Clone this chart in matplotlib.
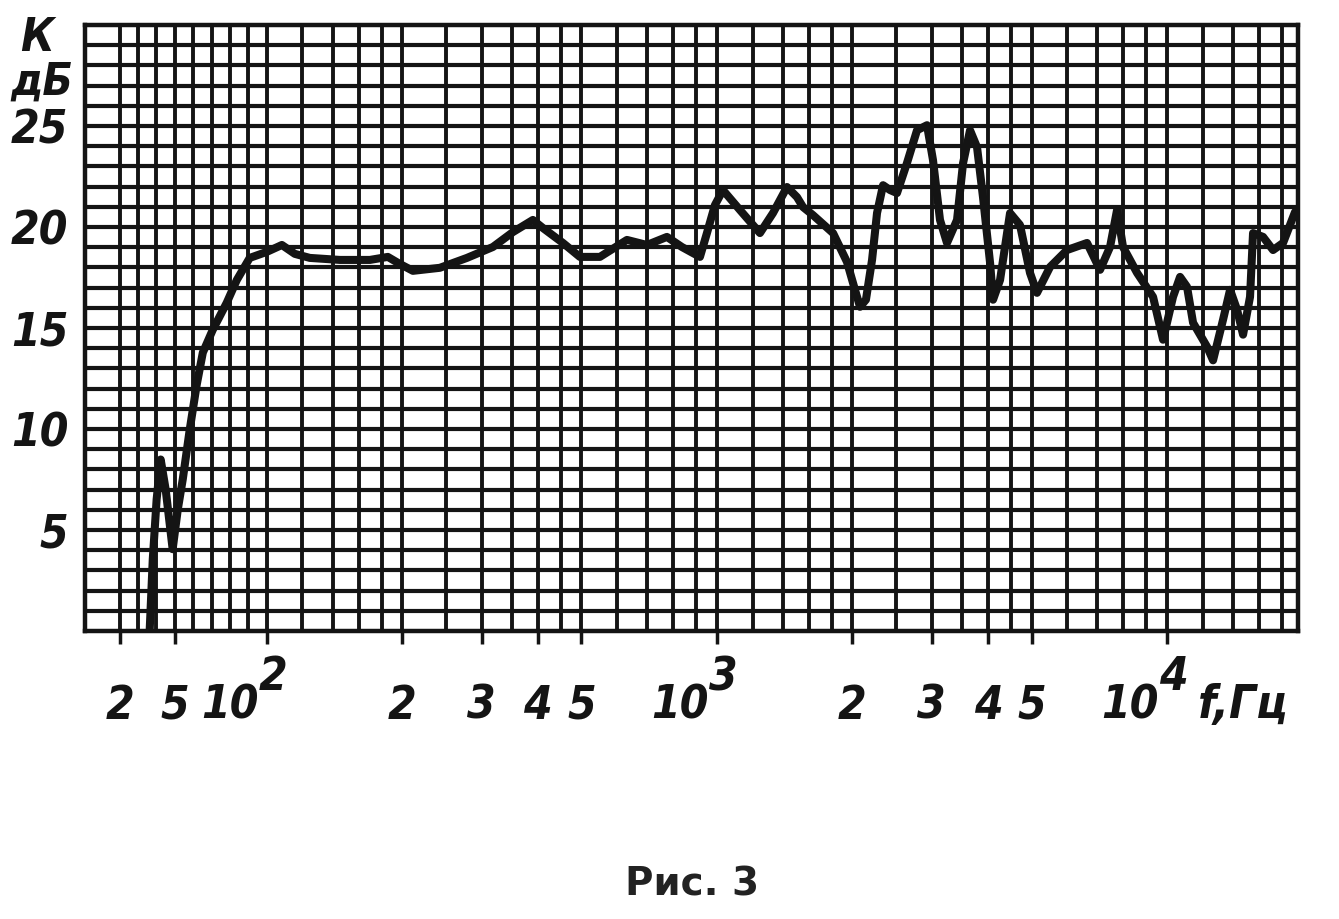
import numpy as np
import matplotlib
matplotlib.use("Agg")
from matplotlib import pyplot as plt
from matplotlib import transforms

# frequency response
freq_hz = [36.3, 38.0, 40.1, 42.3, 45.0, 48.8, 51.6, 54.3, 58.1, 61.9, 65.2, 70.6,
           78.2, 83.7, 90.7, 100, 108, 115.4, 124.6, 145.3, 169.4, 185.7, 197.5,
           211.1, 242.3, 278.3, 317.8, 352.2, 390.0, 410.6, 454.8, 496.0, 549.5,
           631, 698.9, 774.3, 835.9, 916.7, 950.1, 989.9, 1031, 1125, 1246, 1332,
           1431, 1506, 1553, 1634, 1811, 1945, 2026, 2079, 2143, 2211, 2268, 2339,
           2424, 2512, 2643, 2783, 2929, 3020, 3130, 3244, 3415, 3522, 3650, 3783,
           3900, 4044, 4106, 4256, 4479, 4713, 4960, 5141, 5495, 5995, 6641, 7098,
           7470, 7743, 7983, 8577, 9309, 9797, 10310, 10688, 11076, 11423, 12271,
           12653, 13317, 13804, 14308, 14752, 15288, 15525, 16340, 17200, 18102,
           19243]
gain_db = [0.0, 3.56, 6.52, 8.49, 7.01, 4.05, 6.02, 7.51, 9.98, 12.20, 13.78, 14.91,
           16.25, 17.38, 18.47, 18.77, 19.11, 18.67, 18.47, 18.37, 18.37, 18.52, 18.17,
           17.83, 17.98, 18.47, 19.01, 19.75, 20.35, 19.95, 19.21, 18.52, 18.52,
           19.36, 19.11, 19.51, 19.01, 18.52, 19.70, 21.09, 21.83, 20.84, 19.70, 20.69,
           21.98, 21.48, 20.99, 20.59, 19.70, 18.27, 16.89, 16.05, 16.40, 18.37, 20.69,
           22.07, 21.83, 21.68, 23.16, 24.79, 25.04, 23.31, 20.35, 19.21, 20.35, 23.16,
           24.79, 23.95, 21.48, 18.22, 16.40, 17.38, 20.69, 20.10, 17.73, 16.74, 18.02,
           18.86, 19.21, 17.88, 19.01, 20.84, 19.01, 17.73, 16.54, 14.42, 16.54, 17.53,
           17.04, 15.26, 14.07, 13.40, 15.41, 16.89, 15.90, 14.67, 16.54, 19.70, 19.51,
           18.86, 19.21, 20.74]

grid_freqs = [20, 30, 40, 50, 60, 70, 80, 90, 100,
              120, 140, 160, 180, 200, 250, 300, 350, 400, 450, 500, 600, 700, 800, 900, 1000,
              1200, 1400, 1600, 1800, 2000, 2500, 3000, 3500, 4000, 4500, 5000, 6000, 7000,
              8000, 9000, 10000, 12000, 14000, 16000, 18000]
tick_freqs = [20, 50, 100, 200, 300, 400, 500, 1000, 2000, 3000, 4000, 5000, 10000]
tick_text = ["2", "5", "10", "2", "3", "4", "5", "10", "2", "3", "4", "5", "10"]
decade_exp = {100: "2", 1000: "3", 10000: "4"}
db_ticks = [5, 10, 15, 20, 25]

# the low decade of the original paper is drawn almost linear in f
LOW_F = [10, 20, 100]
LOW_U = [1.596, 1.673, 2.0]


def fwd(f):
    f = np.asarray(f, dtype=float)
    lin = np.interp(f, LOW_F, LOW_U)
    return np.where(f >= 100, np.log10(np.maximum(f, 1e-9)), lin)


def inv(u):
    u = np.asarray(u, dtype=float)
    lin = np.interp(u, LOW_U, LOW_F)
    return np.where(u >= 2, 10.0 ** np.minimum(u, 12), lin)


ink = "#141414"
lab = dict(family="DejaVu Sans", fontstretch="condensed", style="italic",
           fontweight="bold", color=ink)

fig = plt.figure(figsize=(13.39, 9.19), dpi=100)
ax = fig.add_axes([85 / 1339, 1 - 631 / 919, (1298 - 85) / 1339, (631 - 25) / 919])
ax.set_xscale("function", functions=(fwd, inv))
ax.set_xlim(10, 19540)
ax.set_ylim(0, 30)

for f in grid_freqs:
    ax.axvline(f, color=ink, lw=2.8, zorder=1)
for d in range(1, 30):
    ax.axhline(d, color=ink, lw=3.0, zorder=1)

ax.plot(freq_hz, gain_db, color=ink, lw=5.8, solid_joinstyle="round",
        solid_capstyle="round", zorder=3)

for s in ax.spines.values():
    s.set_linewidth(3.2)
    s.set_color(ink)

# outward tick marks at labelled frequencies, labels drawn by hand
ax.set_xticks(tick_freqs)
ax.set_xticklabels([])
ax.tick_params(axis="x", direction="out", length=9, width=2.5, color=ink)
ax.xaxis.set_minor_locator(matplotlib.ticker.NullLocator())

ax.set_yticks(db_ticks)
ax.set_yticklabels([str(v) for v in db_ticks], fontsize=33, **lab)
ax.tick_params(axis="y", length=0, pad=12)
ax.yaxis.set_minor_locator(matplotlib.ticker.NullLocator())

trans = transforms.blended_transform_factory(ax.transData, ax.transAxes)
shift = transforms.ScaledTranslation(-8 / 100, 0, fig.dpi_scale_trans)
for f, t in zip(tick_freqs, tick_text):
    if f in decade_exp:
        ax.text(f, -0.145, t, transform=trans + shift, ha="right", va="baseline",
                fontsize=33, **lab)
        ax.text(f, -0.098, decade_exp[f], transform=trans + shift, ha="left",
                va="baseline", fontsize=33, **lab)
    else:
        ax.text(f, -0.145, t, transform=trans, ha="center", va="baseline",
                fontsize=33, **lab)

fig.text(1243 / 1339, 1 - 718 / 919, "f,Гц", ha="center", va="baseline",
         fontsize=34, **lab)
fig.text(37 / 1339, 1 - 51 / 919, "К", ha="center", va="baseline", fontsize=33, **lab)
fig.text(42 / 1339, 1 - 95 / 919, "дБ", ha="center", va="baseline", fontsize=32, **lab)

fig.text(692 / 1339, 1 - 896 / 919, "Рис. 3", ha="center", va="baseline",
         family="DejaVu Sans", fontweight="bold", fontsize=28, color="#222222")

fig.savefig("out.png", dpi=100, facecolor="white")
